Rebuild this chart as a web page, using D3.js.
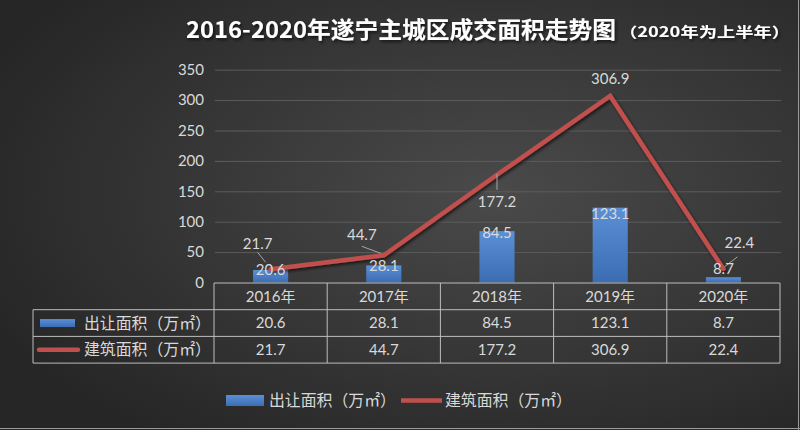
<!DOCTYPE html>
<html>
<head>
<meta charset="utf-8">
<script src="https://cdn.jsdelivr.net/npm/d3@7/dist/d3.min.js"></script>
<style>
  html, body { margin: 0; padding: 0; background: #333; }
  svg { display: block; }
</style>
</head>
<body>
<svg id="chart" width="800" height="430"></svg>
<script>
// ---- data ----
const categories = ["2016年", "2017年", "2018年", "2019年", "2020年"];
const landArea = [20.6, 28.1, 84.5, 123.1, 8.7];        // 出让面积（万㎡）
const buildArea = [21.7, 44.7, 177.2, 306.9, 22.4];     // 建筑面积（万㎡）
const seriesNames = ["出让面积（万㎡）", "建筑面积（万㎡）"];
const yTicks = [0, 50, 100, 150, 200, 250, 300, 350];
const titleText = "2016-2020年遂宁主城区成交面积走势图";
const subtitleText = "（2020年为上半年）";

// ---- styles / layout ----
const W = 800, H = 430;
const plot = { left: 214, right: 780, top: 69.7, bottom: 282.5 };
const rowH = 26.7;
const legendColLeft = 33;
const txt = "#d9d9d9";
const numFont = "Lato, 'Noto Sans CJK SC', sans-serif";
const cjkFont = "'Noto Sans CJK SC', sans-serif";
const barColorTop = "#5b8fd6", barColorBot = "#3b6db3";
const lineColor = "#c0504d";
// label offsets (style, relative to the data point)
const lineLabelOff = [[-13, -26], [-22, -21], [0, 27], [0, -17], [16, -26]];
const lineLeader = [
  [[-13, -17], [-5, -7]],
  [[-22, -9], [-3, -2]],
  [[0, -1], [0, 15]],
  null,
  [[14, -12], [1, -2]]
];
const barLabelOff = [0, 0, 2, 6, -8];

const svg = d3.select("#chart");
const defs = svg.append("defs");

const bg = defs.append("radialGradient").attr("id", "bg")
  .attr("cx", "62%").attr("cy", "45%").attr("r", "70%");
bg.append("stop").attr("offset", "0%").attr("stop-color", "#4a4a4a");
bg.append("stop").attr("offset", "100%").attr("stop-color", "#262626");

const bg2 = defs.append("linearGradient").attr("id", "barg")
  .attr("x1", 0).attr("y1", 0).attr("x2", 0).attr("y2", 1);
bg2.append("stop").attr("offset", "0%").attr("stop-color", barColorTop);
bg2.append("stop").attr("offset", "100%").attr("stop-color", barColorBot);

const sh = defs.append("filter").attr("id", "shadow").attr("x", "-10%").attr("y", "-10%").attr("width", "120%").attr("height", "130%");
sh.append("feDropShadow").attr("dx", 1.5).attr("dy", 2).attr("stdDeviation", 1.5).attr("flood-color", "#000").attr("flood-opacity", 0.6);

svg.append("rect").attr("width", W).attr("height", H).attr("fill", "url(#bg)");
// thin light frame on right/bottom
svg.append("line").attr("x1", W - 1.5).attr("x2", W - 1.5).attr("y1", 0).attr("y2", H).attr("stroke", "#9a9a9a").attr("stroke-width", 1);
svg.append("line").attr("x1", 0).attr("x2", W).attr("y1", H - 1.5).attr("y2", H - 1.5).attr("stroke", "#9a9a9a").attr("stroke-width", 1);

// ---- title ----
svg.append("text").attr("x", 186).attr("y", 38)
  .attr("font-family", cjkFont).attr("font-weight", 700).attr("fill", "#ffffff")
  .attr("font-size", 23).attr("textLength", 430).attr("lengthAdjust", "spacingAndGlyphs")
  .attr("filter", "url(#shadow)").text(titleText);
svg.append("text").attr("x", 619).attr("y", 37)
  .attr("font-family", cjkFont).attr("font-weight", 700).attr("fill", "#ffffff")
  .attr("font-size", 14).attr("textLength", 171).attr("lengthAdjust", "spacingAndGlyphs")
  .attr("filter", "url(#shadow)").text(subtitleText);

// ---- scales ----
const x = d3.scaleBand().domain(categories).range([plot.left, plot.right]).padding(0);
const y = d3.scaleLinear().domain([0, 350]).range([plot.bottom, plot.top]);
const barW = x.bandwidth() * 0.31;
const cx = d => x(d) + x.bandwidth() / 2;

// ---- gridlines & y axis ----
const yAxis = d3.axisLeft(y).tickValues(yTicks).tickSize(-(plot.right - plot.left)).tickPadding(12);
const ya = svg.append("g").attr("transform", `translate(${plot.left + 1},0)`).call(yAxis);
ya.select(".domain").remove();
ya.selectAll(".tick line").attr("stroke", "#5c5c5c").attr("stroke-width", 1)
  .filter(d => d === 0).remove();
ya.selectAll(".tick text").attr("fill", txt).attr("font-size", 15)
  .attr("font-family", numFont).attr("x", -11);

// ---- bars ----
svg.append("g").selectAll("rect").data(landArea).join("rect")
  .attr("x", (d, i) => cx(categories[i]) - barW / 2)
  .attr("y", d => y(d))
  .attr("width", barW)
  .attr("height", d => y(0) - y(d))
  .attr("fill", "url(#barg)");

// ---- line ----
const lineGen = d3.line().x((d, i) => cx(categories[i])).y(d => y(d));
svg.append("path").datum(buildArea).attr("d", lineGen)
  .attr("fill", "none").attr("stroke", lineColor).attr("stroke-width", 4.5)
  .attr("stroke-linejoin", "miter").attr("stroke-linecap", "round")
  .attr("filter", "url(#shadow)");

// ---- line leader lines ----
buildArea.forEach((v, i) => {
  const l = lineLeader[i];
  if (!l) return;
  const px = cx(categories[i]), py = y(v);
  svg.append("line")
    .attr("x1", px + l[0][0]).attr("y1", py + l[0][1])
    .attr("x2", px + l[1][0]).attr("y2", py + l[1][1])
    .attr("stroke", "#a6a6a6").attr("stroke-width", 1);
});

// ---- bar labels ----
svg.append("g").selectAll("text").data(landArea).join("text")
  .attr("x", (d, i) => cx(categories[i]))
  .attr("y", (d, i) => y(d) + barLabelOff[i])
  .attr("dy", "0.35em")
  .attr("text-anchor", "middle")
  .attr("font-family", numFont).attr("font-size", 15).attr("fill", txt)
  .text(d => d);

// ---- line labels ----
svg.append("g").selectAll("text").data(buildArea).join("text")
  .attr("x", (d, i) => cx(categories[i]) + lineLabelOff[i][0])
  .attr("y", (d, i) => y(d) + lineLabelOff[i][1])
  .attr("dy", "0.35em")
  .attr("text-anchor", "middle")
  .attr("font-family", numFont).attr("font-size", 15).attr("fill", txt)
  .text(d => d);

// ---- data table ----
const tb = svg.append("g").attr("stroke", "#bdbdbd").attr("stroke-width", 1).attr("fill", "none");
const t0 = plot.bottom + 0.5;
const rows = [t0, t0 + rowH, t0 + 2 * rowH, t0 + 3 * rowH];
tb.append("line").attr("x1", plot.left).attr("x2", plot.right).attr("y1", rows[0]).attr("y2", rows[0]);
[1, 2, 3].forEach(r => tb.append("line").attr("x1", legendColLeft).attr("x2", plot.right).attr("y1", rows[r]).attr("y2", rows[r]));
tb.append("line").attr("x1", legendColLeft).attr("x2", legendColLeft).attr("y1", rows[1]).attr("y2", rows[3]);
categories.forEach(c => tb.append("line").attr("x1", x(c)).attr("x2", x(c)).attr("y1", rows[0]).attr("y2", rows[3]));
tb.append("line").attr("x1", plot.right).attr("x2", plot.right).attr("y1", rows[0]).attr("y2", rows[3]);

svg.append("g").selectAll("text").data(categories).join("text")
  .attr("x", d => cx(d)).attr("y", rows[0] + rowH / 2).attr("dy", "0.35em")
  .attr("text-anchor", "middle").attr("font-family", numFont).attr("font-size", 15).attr("fill", txt)
  .text(d => d);
[landArea, buildArea].forEach((arr, r) => {
  svg.append("g").selectAll("text").data(arr).join("text")
    .attr("x", (d, i) => cx(categories[i])).attr("y", rows[r + 1] + rowH / 2).attr("dy", "0.35em")
    .attr("text-anchor", "middle").attr("font-family", numFont).attr("font-size", 15).attr("fill", txt)
    .text(d => d);
});
svg.append("rect").attr("x", 40).attr("y", rows[1] + rowH / 2 - 4).attr("width", 35).attr("height", 8).attr("fill", "url(#barg)");
svg.append("line").attr("x1", 39).attr("x2", 78).attr("y1", rows[2] + rowH / 2).attr("y2", rows[2] + rowH / 2)
  .attr("stroke", lineColor).attr("stroke-width", 4.5).attr("stroke-linecap", "round");
seriesNames.forEach((n, r) => {
  svg.append("text").attr("x", 84).attr("y", rows[r + 1] + rowH / 2).attr("dy", "0.35em")
    .attr("font-family", cjkFont).attr("font-size", 16).attr("fill", txt)
    .attr("textLength", 127).attr("lengthAdjust", "spacingAndGlyphs").text(n);
});

// ---- bottom legend ----
const lg = svg.append("g");
lg.append("rect").attr("x", 226).attr("y", 395).attr("width", 38).attr("height", 11).attr("fill", "url(#barg)");
lg.append("text").attr("x", 269).attr("y", 400.5).attr("dy", "0.35em")
  .attr("font-family", cjkFont).attr("font-size", 16).attr("fill", txt)
  .attr("textLength", 127).attr("lengthAdjust", "spacingAndGlyphs").text(seriesNames[0]);
lg.append("line").attr("x1", 401).attr("x2", 442).attr("y1", 400.5).attr("y2", 400.5)
  .attr("stroke", lineColor).attr("stroke-width", 4.5);
lg.append("text").attr("x", 445).attr("y", 400.5).attr("dy", "0.35em")
  .attr("font-family", cjkFont).attr("font-size", 16).attr("fill", txt)
  .attr("textLength", 127).attr("lengthAdjust", "spacingAndGlyphs").text(seriesNames[1]);
</script>
</body>
</html>
